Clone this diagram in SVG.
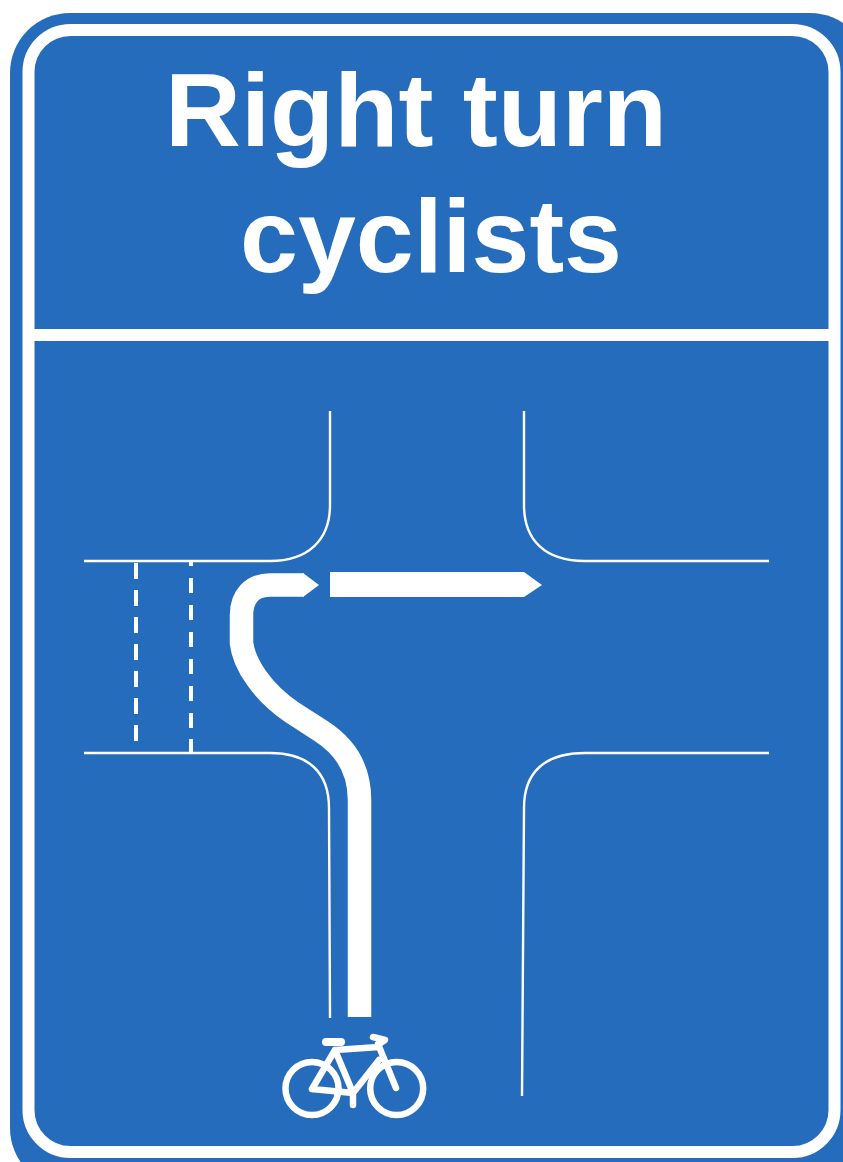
<svg xmlns="http://www.w3.org/2000/svg" width="843" height="1162" viewBox="0 0 843 1162">
<style>
.road{fill:none;stroke:#fff;stroke-width:2.4}
.dash{fill:none;stroke:#fff;stroke-width:4}
.bike{fill:none;stroke:#fff;stroke-width:6.500;stroke-linecap:round;stroke-linejoin:round}
.saddle{fill:none;stroke:#fff;stroke-width:8;stroke-linecap:round}
.title{font-family:"Liberation Sans",Arial,sans-serif;font-weight:700;font-size:103px;fill:#fff;text-anchor:middle}
</style>
<rect width="843" height="1162" fill="#fff"/>
<g id="sign">
<rect x="10" y="13" width="860" height="1175" rx="60" fill="#266cbc"/>
<rect x="28.500" y="30" width="806" height="1122" rx="42" fill="#266cbc" stroke="#fff" stroke-width="12"/>
<rect x="34" y="329" width="795" height="12" fill="#fff"/>
</g>
<g id="title">
<text class="title" x="416" y="146" textLength="502" lengthAdjust="spacingAndGlyphs">Right turn</text>
<text class="title" x="431" y="272" textLength="382" lengthAdjust="spacingAndGlyphs">cyclists</text>
</g>
<g id="roads">
<path class="road" d="M84 561H270C308 561 330 540 330 505V411"/>
<path class="road" d="M84 753H270C308 753 329 772 329 808L330 1018"/>
<path class="road" d="M524 411V505C524 540 545 561 585 561H769"/>
<path class="road" d="M769 753H585C545 753 524 772 524 808L522 1096"/>
</g>
<g id="crossing">
<path class="dash" stroke-dasharray="16 11" d="M136 563V742"/>
<path class="dash" d="M191 561V566M191 578V593M191 605V620M191 632V647M191 659V674M191 686V701M191 713V728M191 739V753"/>
</g>
<g id="connectors">
<path d="M304 585H270C252 585 241.500 597 241.500 615V643C244 664 262 692 293 713L321 731C346 747 359.500 770 359.500 800V1017" fill="none" stroke="#fff" stroke-width="23.500"/>
<path d="M303 573L319 585L303 597Z" fill="#fff"/>
<path d="M330 572H524L542 585L524 597H330Z" fill="#fff"/>
</g>
<g id="bicycle">
<circle class="bike" cx="312" cy="1088.500" r="26.500"/>
<circle class="bike" cx="396.700" cy="1088.500" r="26.500"/>
<path class="bike" d="M312 1089L335 1050L353 1093L312 1089M335 1050L379 1047M379 1060L353 1093M378 1044L396 1088M353 1093V1105"/>
<path class="saddle" d="M326 1042H341"/>
<path class="bike" d="M373 1037L385 1040L379 1044"/>
</g>
</svg>
